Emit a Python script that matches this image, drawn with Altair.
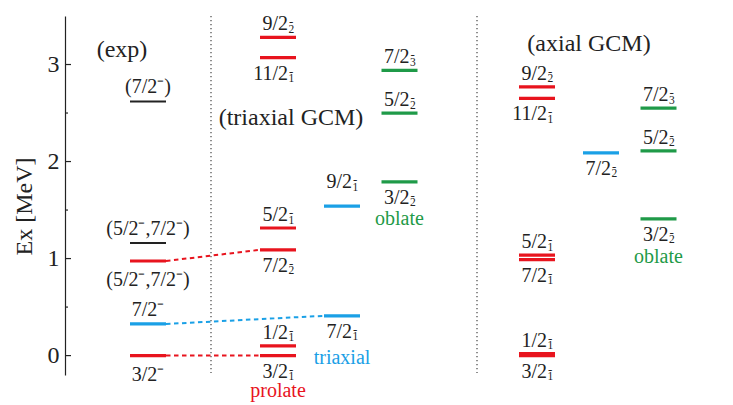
import altair as alt
import pandas as pd

# ---- columns (x position of each level column, in x-scale units) ----
col_names = ["exp", "tri_p", "tri_t", "tri_o", "ax_p", "ax_t", "ax_o"]
col_x = [83, 213, 277, 334.5, 472, 536, 593.5]
half_w = 18
sep_x = [146, 412]

# ---- levels ----
lvl_col = ["exp", "exp", "exp", "exp", "exp",
           "tri_p", "tri_p", "tri_p", "tri_p", "tri_p", "tri_p",
           "tri_t", "tri_t",
           "tri_o", "tri_o", "tri_o",
           "ax_p", "ax_p", "ax_p", "ax_p", "ax_p", "ax_p",
           "ax_t",
           "ax_o", "ax_o", "ax_o"]
lvl_E = [2.62, 1.16, 0.975, 0.326, 0.0,
         3.28, 3.07, 1.315, 1.09, 0.10, 0.0,
         1.54, 0.41,
         2.94, 2.50, 1.79,
         2.77, 2.65, 1.035, 0.99, 0.02, 0.0,
         2.09,
         2.55, 2.11, 1.41]
lvl_kind = ["exp", "exp", "prolate", "triaxial", "prolate",
            "prolate", "prolate", "prolate", "prolate", "prolate", "prolate",
            "triaxial", "triaxial",
            "oblate", "oblate", "oblate",
            "prolate", "prolate", "prolate", "prolate", "prolate", "prolate",
            "triaxial",
            "oblate", "oblate", "oblate"]
lvl_main = ["(7/2⁻)", "(5/2⁻,7/2⁻)", "(5/2⁻,7/2⁻)", "7/2⁻", "3/2⁻",
            "9/2", "11/2", "5/2", "7/2", "1/2", "3/2",
            "9/2", "7/2",
            "7/2", "5/2", "3/2",
            "9/2", "11/2", "5/2", "7/2", "1/2", "3/2",
            "7/2",
            "7/2", "5/2", "3/2"]
lvl_sub = ["", "", "", "", "",
           "2", "1", "1", "2", "1", "1",
           "1", "1",
           "3", "2", "2",
           "2", "1", "1", "1", "1", "1",
           "2",
           "3", "2", "2"]
lvl_pos = ["above", "above", "below", "above", "below",
           "above", "below", "above", "below", "above", "below",
           "far", "below",
           "above", "above", "below",
           "above", "below", "above", "below", "above", "below",
           "below",
           "above", "above", "below"]

# group tags (shape names) placed below a column
tag_col = ["tri_p", "tri_t", "tri_o", "ax_o"]
tag_E = [0.0, 0.41, 1.79, 1.41]
tag_text = ["prolate", "triaxial", "oblate", "oblate"]
tag_kind = ["prolate", "triaxial", "oblate", "oblate"]
tag_dy = [41, 48, 43, 44]

# dashed links: (from level index, to level index)
link_from = [2, 3, 4]
link_to = [8, 12, 10]

# axis
major_ticks = [0, 1, 2, 3]
minor_ticks = [0.5, 1.5, 2.5]

palette = {"exp": "#222222", "prolate": "#e8141e",
           "triaxial": "#1aa0e6", "oblate": "#1f9a48"}
widths = {"exp": 2, "prolate": 3.2, "triaxial": 3.2, "oblate": 3.2}
FONT = "Liberation Serif, Times New Roman, Times, serif"

cx = dict(zip(col_names, col_x))
lv = pd.DataFrame({"col": lvl_col, "E": lvl_E, "kind": lvl_kind,
                   "main": lvl_main, "sub": lvl_sub, "pos": lvl_pos})
lv["xc"] = lv["col"].map(cx)
lv["x1"] = lv["xc"] - half_w
lv["x2"] = lv["xc"] + half_w
lv["color"] = lv["kind"].map(palette)
lv["sw"] = lv["kind"].map(widths)

links = pd.DataFrame({
    "xa": [lv.loc[i, "x2"] for i in link_from],
    "xb": [lv.loc[j, "x1"] for j in link_to],
    "ya": [lv.loc[i, "E"] for i in link_from],
    "yb": [lv.loc[j, "E"] for j in link_to],
    "color": [lv.loc[j, "color"] for j in link_to],
})

tags = pd.DataFrame({"xc": [cx[c] for c in tag_col], "E": tag_E,
                     "text": tag_text,
                     "color": [palette[k] for k in tag_kind], "dy": tag_dy})

W, H = 660, 359
xs = alt.Scale(domain=[0, W])
ys = alt.Scale(domain=[-0.2, 3.5])
y_axis = alt.Axis(
    values=major_ticks, ticks=False, grid=False, domain=True,
    domainColor="#222222", domainWidth=1.2, labelFont=FONT, labelFontSize=24,
    labelColor="#222222", labelPadding=6, title="Ex [MeV]", titleFont=FONT,
    titleFontSize=24, titleFontWeight="normal", titleColor="#222222",
    titleAngle=-90, titleX=-34, titleY=190, titleAlign="center",
    titleBaseline="alphabetic")
X = lambda f: alt.X(f, type="quantitative", scale=xs, axis=None)
Y = lambda f: alt.Y(f, type="quantitative", scale=ys, axis=y_axis, title="Ex [MeV]")

tick_major = alt.Chart(pd.DataFrame({"v": major_ticks})).mark_rule(
    color="#222222", strokeWidth=1.2).encode(
    x=alt.value(0), x2=alt.value(6), y=Y("v"))
tick_minor = alt.Chart(pd.DataFrame({"v": minor_ticks})).mark_rule(
    color="#222222", strokeWidth=1.2).encode(
    x=alt.value(0), x2=alt.value(3), y=Y("v"))

seps = alt.Chart(pd.DataFrame({"x": sep_x})).mark_rule(
    color="#444444", strokeWidth=1.2, strokeDash=[1.3, 2.7]).encode(
    x=X("x"), y=alt.value(0), y2=alt.value(357))

levels = alt.Chart(lv).mark_rule().encode(
    x=X("x1"), x2="x2", y=Y("E"),
    color=alt.Color("color:N", scale=None),
    size=alt.Size("sw:Q", scale=None))

link_layer = alt.Chart(links).mark_rule(strokeWidth=2, strokeDash=[4.5, 3.5]).encode(
    x=X("xa"), x2="xb", y=Y("ya"), y2="yb",
    color=alt.Color("color:N", scale=None))

exp_lv = lv[lv["col"] == "exp"]
th_lv = lv[lv["col"] != "exp"]

def exp_text(pos, dy):
    d = exp_lv[exp_lv["pos"] == pos]
    return alt.Chart(d).mark_text(font=FONT, fontSize=20, align="center",
                                  baseline="alphabetic", dy=dy, color="#222222").encode(
        x=X("xc"), y=Y("E"), text="main:N")

def th_text(pos, dy):
    d = th_lv[th_lv["pos"] == pos]
    main = alt.Chart(d).mark_text(font=FONT, fontSize=20, align="right",
                                  baseline="alphabetic", dx=10, dy=dy,
                                  color="#222222").encode(
        x=X("xc"), y=Y("E"), text="main:N")
    sub = alt.Chart(d).mark_text(font=FONT, fontSize=11.5, align="left",
                                 baseline="alphabetic", dx=10.5, dy=dy + 2.5,
                                 color="#222222").encode(
        x=X("xc"), y=Y("E"), text="sub:N")
    sup = alt.Chart(d).mark_text(font=FONT, fontSize=13, align="left",
                                 baseline="alphabetic", dx=11, dy=dy - 4,
                                 color="#222222").encode(
        x=X("xc"), y=Y("E"), text=alt.value("-"))
    return [main, sub, sup]

tag_layers = []
for dy in sorted(set(tag_dy)):
    tag_layers.append(alt.Chart(tags[tags["dy"] == dy]).mark_text(
        font=FONT, fontSize=20, align="center", baseline="alphabetic", dy=dy).encode(
        x=X("xc"), y=Y("E"), text="text:N",
        color=alt.Color("color:N", scale=None)))

titles = pd.DataFrame({"t": ["(exp)", "(triaxial GCM)", "(axial GCM)"],
                       "px": [57, 226, 524], "py": [41, 109, 35]})
title_layers = [
    alt.Chart(titles.iloc[[i]]).mark_text(font=FONT, fontSize=24, align="center",
                                          baseline="alphabetic", color="#222222").encode(
        x=alt.value(float(titles.px[i])), y=alt.value(float(titles.py[i])), text="t:N")
    for i in range(len(titles))
]

layers = [tick_major, tick_minor, seps, link_layer, levels,
          exp_text("above", -8), exp_text("below", 25)]
layers += th_text("above", -7) + th_text("below", 22) + th_text("far", -18)
layers += tag_layers + title_layers

chart = alt.layer(*layers).properties(
    width=W, height=H,
    autosize=alt.AutoSizeParams(type="none"),
    padding={"left": 57, "top": 8, "right": 0, "bottom": 30},
).configure_view(stroke=None)

chart.save("out.html", embed_options={"renderer": "svg", "actions": False})
